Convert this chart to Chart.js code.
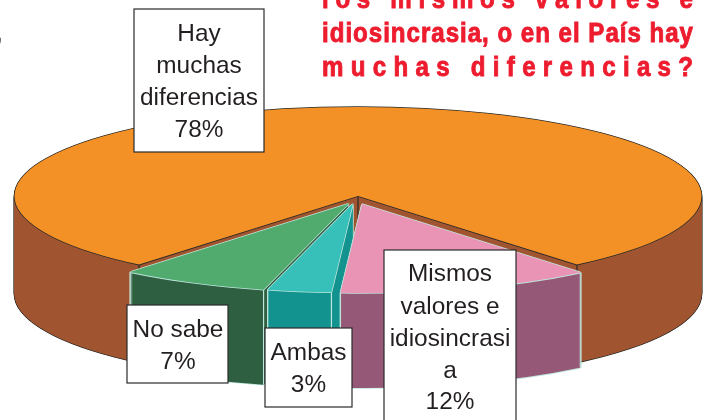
<!DOCTYPE html>
<html lang="es">
<head>
<meta charset="utf-8">
<title>Gráfico</title>
<style>html,body{margin:0;padding:0;background:#fff;overflow:hidden}canvas{display:block}</style>
<script src="https://cdn.jsdelivr.net/npm/chart.js@4/dist/chart.umd.min.js"></script>
</head>
<body>
<canvas id="c" width="710" height="420"></canvas>
<script>
const categories = ["Hay muchas diferencias", "Mismos valores e idiosincrasia", "Ambas", "No sabe"];
const values = [78, 12, 3, 7];
const topColors = ["#F39127", "#EA94B5", "#37BFB9", "#52AB6E"];
const wallColors = ["#A05530", "#955876", "#13938F", "#2E5F41"];
const edgeColors = ["#2A2A28", "#BFE5DC", "#BFE5DC", "#BFE5DC"];
const titleLines = ["los mismos valores e", "idiosincrasia, o en el País hay", "muchas diferencias?"];

// 3D look: vertical squash, extrusion depth and explode shift per slice
const SQUASH = 89 / 343.5;
const depths = [98, 95, 95, 95];
const shifts = [[0, 0], [4, 8], [-5, 7.5], [-9, 7.5]];
const drawOrder = [0, 3, 2, 1];

const labelBoxes = [
  {x: 134, y: 9, w: 130, h: 143, cx: 199, lines: [["Hay", 34], ["muchas", 66], ["diferencias", 98], ["78%", 130]]},
  {x: 127, y: 305, w: 101, h: 78, cx: 178, lines: [["No sabe", 330], ["7%", 362]]},
  {x: 265, y: 328, w: 87, h: 79, cx: 308.5, lines: [["Ambas", 353], ["3%", 385]]},
  {x: 384, y: 250, w: 132, h: 180, cx: 450, lines: [["Mismos", 274], ["valores e", 307], ["idiosincrasi", 339], ["a", 371], ["12%", 402]]}
];

function flatOptions(color) {
  return {backgroundColor: color, borderColor: color, borderWidth: 0, borderAlign: "center",
          borderRadius: 0, spacing: 0, offset: 0, circular: true, borderDash: [], borderDashOffset: 0, borderJoinStyle: "round"};
}

const pie3d = {
  id: "pie3d",
  beforeDatasetsDraw(chart) {
    const ctx = chart.ctx;
    const arcs = chart.getDatasetMeta(0).data;
    const stamp = (target, arc, color, ox, oy) => {
      const keep = arc.options;
      arc.options = flatOptions(color);
      target.save();
      target.translate(arc.x + ox, arc.y + oy);
      target.scale(1, SQUASH);
      target.translate(-arc.x, -arc.y);
      arc.draw(target);
      target.restore();
      arc.options = keep;
    };
    // sweep the slice on a spare layer, then flatten it to one exact colour
    const sweep = (arc, color, offsets) => {
      const layer = document.createElement("canvas");
      layer.width = chart.width;
      layer.height = chart.height;
      const lc = layer.getContext("2d");
      offsets.forEach(o => stamp(lc, arc, color, o[0], o[1]));
      lc.globalCompositeOperation = "source-in";
      lc.fillStyle = color;
      lc.fillRect(0, 0, layer.width, layer.height);
      ctx.drawImage(layer, 0, 0);
    };
    const w = 0.8;
    const ring = [[-w, 0], [w, 0], [0, -w], [0, w]];
    drawOrder.forEach(i => {
      const arc = arcs[i];
      const [sx, sy] = shifts[i];
      const d = depths[i];
      const outline = [], wall = [];
      for (let y = d; y > 0; y -= 1) {
        ring.forEach(r => outline.push([sx + r[0], sy + y + r[1]]));
        wall.push([sx, sy + y]);
      }
      sweep(arc, edgeColors[i], outline);
      sweep(arc, wallColors[i], wall);
      // vertical corner edges
      ctx.save();
      ctx.strokeStyle = edgeColors[i];
      ctx.lineWidth = 1.2;
      const corner = a => [arc.x + sx + arc.outerRadius * Math.cos(a), arc.y + sy + arc.outerRadius * Math.sin(a) * SQUASH];
      const pts = [corner(arc.startAngle), corner(arc.endAngle)];
      if (i === 0) pts.push([arc.x, arc.y]);
      pts.forEach(p => {
        ctx.beginPath();
        ctx.moveTo(p[0], p[1]);
        ctx.lineTo(p[0], p[1] + d);
        ctx.stroke();
      });
      ctx.restore();
      // top face
      ring.forEach(r => stamp(ctx, arc, edgeColors[i], sx + r[0], sy + r[1]));
      stamp(ctx, arc, topColors[i], sx, sy);
    });
    return false;
  },
  afterDraw(chart) {
    const ctx = chart.ctx;
    ctx.save();
    // label boxes
    labelBoxes.forEach(b => {
      ctx.fillStyle = "#FFFFFF";
      ctx.strokeStyle = "#2A2A2A";
      ctx.lineWidth = 1.2;
      ctx.fillRect(b.x, b.y, b.w, b.h);
      ctx.strokeRect(b.x, b.y, b.w, b.h);
      ctx.fillStyle = "#231F20";
      ctx.font = '24.4px "Liberation Sans"';
      ctx.textAlign = "center";
      ctx.textBaseline = "middle";
      b.lines.forEach(l => ctx.fillText(l[0], b.cx, l[1]));
    });
    // cropped punctuation at the far left edge
    ctx.textAlign = "left";
    ctx.textBaseline = "alphabetic";
    ctx.font = 'bold 22px "Liberation Sans"';
    ctx.fillText(",", -4, 41);
    // justified condensed red heading, clipped by the top of the picture
    const baselines = [7.5, 42, 76];
    const left = 322, right = 693;
    ctx.fillStyle = "#ED1C2E";
    ctx.strokeStyle = "#ED1C2E";
    ctx.lineWidth = 0.9;
    ctx.font = 'bold 27.5px "Liberation Sans"';
    ctx.letterSpacing = "0px";
    const narrow = 0.92 * (right - left) / ctx.measureText(titleLines[1]).width;
    titleLines.forEach((t, i) => {
      ctx.letterSpacing = "0px";
      const natural = ctx.measureText(t).width;
      const gap = ((right - left) / narrow - natural) / (t.length - 1);
      ctx.letterSpacing = gap.toFixed(3) + "px";
      ctx.save();
      ctx.translate(left, baselines[i]);
      ctx.scale(narrow, 1);
      ctx.fillText(t, 0, 0);
      ctx.strokeText(t, 0, 0);
      ctx.restore();
    });
    ctx.letterSpacing = "0px";
    ctx.restore();
  }
};

new Chart(document.getElementById("c"), {
  type: "pie",
  data: {
    labels: categories,
    datasets: [{data: values, backgroundColor: topColors, borderWidth: 0}]
  },
  options: {
    responsive: false,
    animation: false,
    events: [],
    rotation: -140.4,
    radius: 343.5,
    layout: {padding: {left: 6, right: 0, top: 0, bottom: 28}},
    plugins: {legend: {display: false}, tooltip: {enabled: false}, title: {display: false}}
  },
  plugins: [pie3d]
});
</script>
</body>
</html>
